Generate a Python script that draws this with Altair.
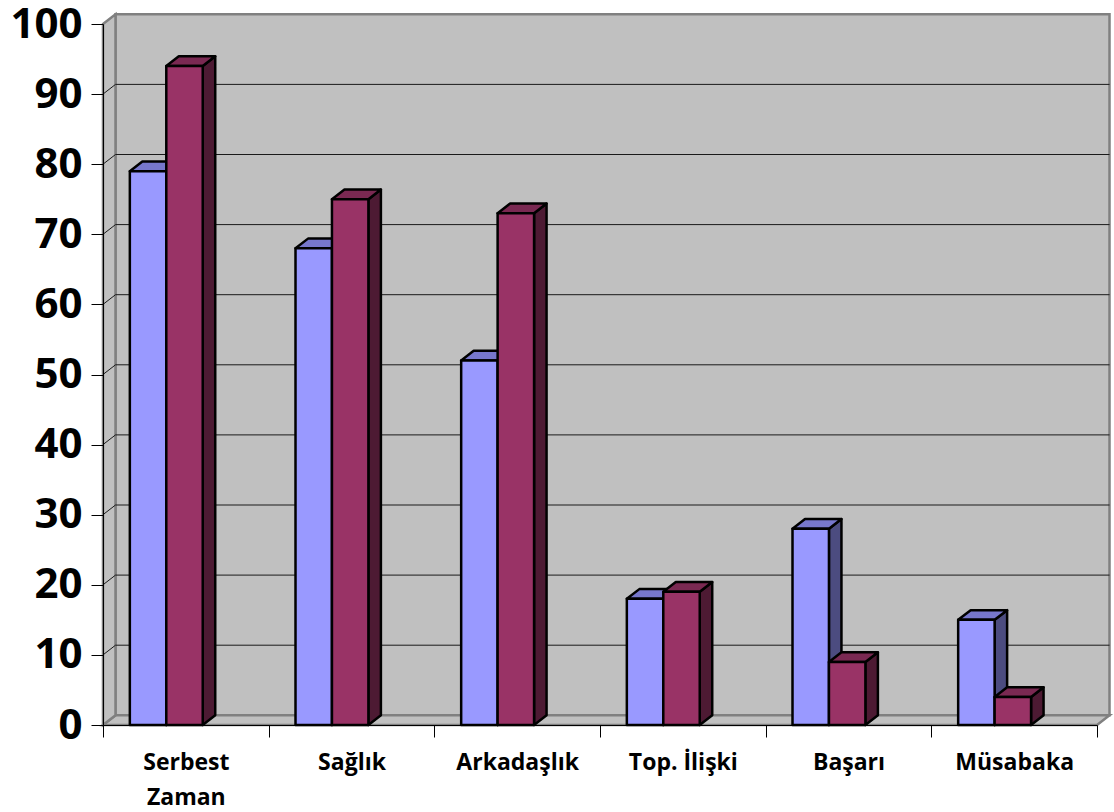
import json
import altair as alt
import pandas as pd

# Categories and the two series
categories = ["Serbest Zaman", "Sağlık", "Arkadaşlık", "Top. İlişki", "Başarı", "Müsabaka"]
series_a = [79, 68, 52, 18, 28, 15]
series_b = [94, 75, 73, 19, 9, 4]
y_ticks = list(range(0, 101, 10))

# 3-D look: depth offset of walls and bars (x in category units, y in value units)
W, H = 994, 701
DX = 12.5 / (W / 6)
DY = 9.7 / (H / 100)
BAR_W = 0.22
SLOT = [0.162, 0.382]

FRONT = ["#9999FF", "#993366"]
TOP = ["#7777CC", "#7A2952"]
SIDE = ["#4C4C80", "#4D1A33"]
WALL = "#C0C0C0"
EDGE = "#808080"

xs = alt.Scale(domain=[0, 6], nice=False, zero=False)
ys = alt.Scale(domain=[0, 100], nice=False, zero=False)

label_lines = [c.split(" ") if c == "Serbest Zaman" else [c] for c in categories]
label_expr = f"datum.value < 6 ? {json.dumps(label_lines, ensure_ascii=False)}[datum.value] : ''"

x_axis = alt.Axis(
    values=list(range(7)), tickSize=12, tickColor="black", domainColor="black",
    domainWidth=1, tickWidth=1, labelExpr=label_expr, labelOffset=W / 12,
    labelFont="Open Sans", labelFontWeight="bold", labelFontSize=23,
    labelColor="black", labelPadding=14, labelBaseline="top", labelAlign="center",
    labelLineHeight=35, labelFlush=False, labelOverlap=False, labelBound=False,
    grid=False, title=None, zindex=1,
)
y_axis = alt.Axis(
    values=y_ticks, tickSize=12, tickColor="black", domainColor="black",
    domainWidth=1, tickWidth=1, labelFont="Open Sans", labelFontWeight="bold",
    labelFontSize=42, labelColor="black", labelPadding=9, grid=False,
    title=None, zindex=1, labelFlush=False, labelOverlap=False,
)


def X(field, **kw):
    return alt.X(field, scale=xs, axis=x_axis, **kw)


def Y(field, **kw):
    return alt.Y(field, scale=ys, axis=y_axis, **kw)


# Back wall
back = pd.DataFrame({"x": [DX], "x2": [6 + DX], "y": [DY], "y2": [100 + DY]})
back_wall = alt.Chart(back).mark_rect(fill=WALL, stroke=EDGE, strokeWidth=2.5).encode(
    x=X("x:Q"), x2="x2:Q", y=Y("y:Q"), y2="y2:Q",
)

# Floor (horizontal parallelogram)
floor = pd.DataFrame({"y": [0, DY], "x": [0, DX], "x2": [6, 6 + DX]})
floor_mark = alt.Chart(floor).mark_area(
    orient="horizontal", fill=WALL, stroke=EDGE, strokeWidth=2.5
).encode(y=Y("y:Q"), x=X("x:Q", stack=None), x2="x2:Q")

# Left side wall
left = pd.DataFrame({"x": [0, DX], "y": [100, 100 + DY], "y2": [0, DY]})
left_wall = alt.Chart(left).mark_area(fill=WALL, stroke=EDGE, strokeWidth=2.5).encode(
    x=X("x:Q"), y=Y("y:Q", stack=None), y2="y2:Q",
)

# Gridlines on the back wall and on the side wall
grid = pd.DataFrame({"v": [v for v in y_ticks if 0 < v < 100]})
grid["vb"] = grid["v"] + DY
grid["x0"] = 0.0
grid["x1"] = DX
grid["xb0"] = DX
grid["xb1"] = 6 + DX
grid_back = alt.Chart(grid).mark_rule(color="#1a1a1a", strokeWidth=1).encode(
    x=X("xb0:Q"), x2="xb1:Q", y=Y("vb:Q"),
)
grid_side = alt.Chart(grid).mark_rule(color="#1a1a1a", strokeWidth=1).encode(
    x=X("x0:Q"), x2="x1:Q", y=Y("v:Q"), y2="vb:Q",
)

layers = [back_wall, floor_mark, left_wall, grid_back, grid_side]

for s, vals in enumerate([series_a, series_b]):
    front_rows, top_rows, side_rows = [], [], []
    for i, v in enumerate(vals):
        xl = i + SLOT[s]
        xr = xl + BAR_W
        bid = f"{s}-{i}"
        front_rows.append({"id": bid, "xl": xl, "xr": xr, "v": v, "z": 0})
        top_rows += [
            {"id": bid, "y": v, "x": xl, "x2": xr},
            {"id": bid, "y": v + DY, "x": xl + DX, "x2": xr + DX},
        ]
        side_rows += [
            {"id": bid, "x": xr, "y": v, "y2": 0},
            {"id": bid, "x": xr + DX, "y": v + DY, "y2": DY},
        ]
    side = alt.Chart(pd.DataFrame(side_rows)).mark_area(
        fill=SIDE[s], stroke="black", strokeWidth=2.5, strokeJoin="round"
    ).encode(x=X("x:Q"), y=Y("y:Q", stack=None), y2="y2:Q", detail="id:N")
    top = alt.Chart(pd.DataFrame(top_rows)).mark_area(
        orient="horizontal", fill=TOP[s], stroke="black", strokeWidth=2.5, strokeJoin="round"
    ).encode(y=Y("y:Q"), x=X("x:Q", stack=None), x2="x2:Q", detail="id:N")
    front = alt.Chart(pd.DataFrame(front_rows)).mark_rect(
        fill=FRONT[s], stroke="black", strokeWidth=2.5, strokeJoin="round"
    ).encode(x=X("xl:Q"), x2="xr:Q", y=Y("v:Q"), y2="z:Q")
    layers += [side, top, front]

chart = alt.layer(*layers).properties(
    width=W, height=H,
    padding={"left": 103, "top": 24, "right": 17, "bottom": 87},
    autosize="none", background="white",
).configure_view(stroke=None)

chart.save("out.html", embed_options={"renderer": "svg", "actions": False})
